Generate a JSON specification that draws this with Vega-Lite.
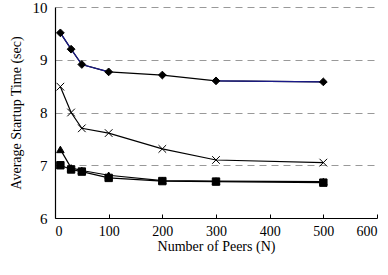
{
  "$schema": "https://vega.github.io/schema/vega-lite/v6.json",
  "autosize": "none",
  "width": 322,
  "height": 211,
  "padding": {"left": 55, "top": 7, "right": 11, "bottom": 57},
  "background": "white",
  "config": {
    "view": {"stroke": null},
    "axis": {"labelColor": "black", "titleColor": "black", "titleFontWeight": "normal", "domainColor": "black", "tickColor": "black"}
  },
  "datasets": {
    "main": [
      {"N": 10, "t": 9.51, "s": "A"}, {"N": 30, "t": 9.2, "s": "A"}, {"N": 50, "t": 8.91, "s": "A"}, {"N": 100, "t": 8.77, "s": "A"}, {"N": 200, "t": 8.71, "s": "A"}, {"N": 300, "t": 8.6, "s": "A"}, {"N": 500, "t": 8.58, "s": "A"},
      {"N": 10, "t": 8.49, "s": "B"}, {"N": 30, "t": 8.0, "s": "B"}, {"N": 50, "t": 7.7, "s": "B"}, {"N": 100, "t": 7.61, "s": "B"}, {"N": 200, "t": 7.31, "s": "B"}, {"N": 300, "t": 7.1, "s": "B"}, {"N": 500, "t": 7.05, "s": "B"},
      {"N": 10, "t": 7.3, "s": "C"}, {"N": 30, "t": 6.95, "s": "C"}, {"N": 50, "t": 6.9, "s": "C"}, {"N": 100, "t": 6.81, "s": "C"}, {"N": 200, "t": 6.71, "s": "C"}, {"N": 300, "t": 6.7, "s": "C"}, {"N": 500, "t": 6.69, "s": "C"},
      {"N": 10, "t": 7.0, "s": "D"}, {"N": 30, "t": 6.92, "s": "D"}, {"N": 50, "t": 6.88, "s": "D"}, {"N": 100, "t": 6.76, "s": "D"}, {"N": 200, "t": 6.7, "s": "D"}, {"N": 300, "t": 6.69, "s": "D"}, {"N": 500, "t": 6.67, "s": "D"}
    ],
    "navy": [
      {"N": 10, "t": 9.51, "g": 1}, {"N": 30, "t": 9.2, "g": 1}, {"N": 50, "t": 8.91, "g": 1}, {"N": 100, "t": 8.77, "g": 1},
      {"N": 300, "t": 8.6, "g": 2}, {"N": 500, "t": 8.58, "g": 2}
    ]
  },
  "layer": [
    {
      "data": {"name": "main"},
      "mark": {"type": "line", "color": "black", "strokeWidth": 1.2},
      "encoding": {
        "x": {"field": "N", "type": "quantitative", "scale": {"domain": [0, 600], "nice": false},
          "axis": {"values": [0, 100, 200, 300, 400, 500, 600], "format": "d", "grid": false, "title": "Number of Peers (N)", "labelFont": "Liberation Serif", "titleFont": "Liberation Serif", "labelFontSize": 14, "titleFontSize": 14, "labelPadding": 10, "titlePadding": 1, "tickSize": -4, "domainWidth": 1.2}},
        "y": {"field": "t", "type": "quantitative", "scale": {"domain": [6, 10], "nice": false, "zero": false},
          "axis": {"values": [6, 7, 8, 9, 10], "format": "d", "grid": true, "gridDash": [7, 5], "gridColor": "#999999", "gridWidth": 1.2, "title": "Average Startup Time (sec)", "labelFont": "Liberation Serif", "titleFont": "Liberation Serif", "labelFontSize": 15, "titleFontSize": 14, "labelPadding": 8, "titlePadding": 9, "tickSize": 0, "domainWidth": 1.2}},
        "detail": {"field": "s"}
      }
    },
    {
      "data": {"name": "navy"},
      "mark": {"type": "line", "color": "#1a1a8a", "strokeWidth": 1.2},
      "encoding": {
        "x": {"field": "N", "type": "quantitative"},
        "y": {"field": "t", "type": "quantitative"},
        "detail": {"field": "g"}
      }
    },
    {
      "data": {"name": "main"},
      "mark": {"type": "point", "filled": true, "opacity": 1, "stroke": "black", "strokeWidth": 1, "color": "black"},
      "encoding": {
        "x": {"field": "N", "type": "quantitative"},
        "y": {"field": "t", "type": "quantitative"},
        "shape": {"field": "s", "type": "nominal", "legend": null,
          "scale": {"domain": ["A", "B", "C", "D"], "range": ["diamond", "M-1,-1L1,1M-1,1L1,-1", "triangle-up", "square"]}},
        "size": {"field": "s", "type": "nominal", "legend": null,
          "scale": {"domain": ["A", "B", "C", "D"], "range": [60, 55, 55, 60]}}
      }
    }
  ]
}
